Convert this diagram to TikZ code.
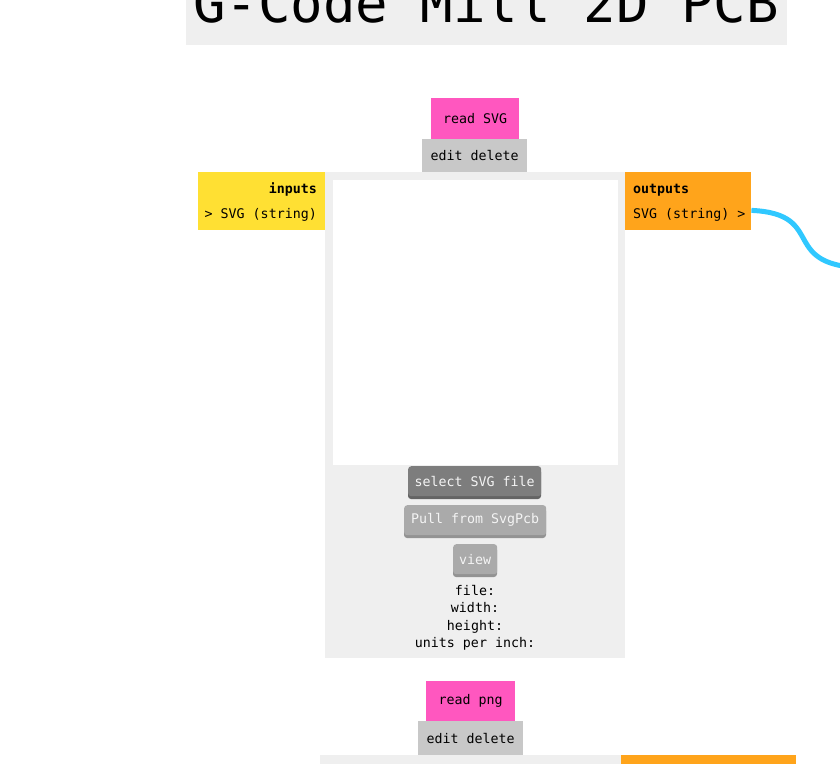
\documentclass[tikz,border=0pt]{standalone}
\usepackage{fontspec}
\setmonofont{DejaVu Sans Mono}
\setmainfont{DejaVu Sans Mono}
\definecolor{pinkc}{HTML}{FF57BF}
\definecolor{editc}{HTML}{C8C8C8}
\definecolor{yelc}{HTML}{FFE033}
\definecolor{orac}{HTML}{FFA41B}
\definecolor{panelc}{HTML}{EFEFEF}
\definecolor{selc}{HTML}{7D7D7D}
\definecolor{selsh}{HTML}{646464}
\definecolor{pullc}{HTML}{AAAAAA}
\definecolor{pullsh}{HTML}{939393}
\definecolor{wirec}{HTML}{30C8FF}
\definecolor{btntext}{HTML}{F4F4F4}
\tikzset{
  small/.style={font=\fontsize{13.3}{25}\selectfont},
  box/.style={small, anchor=north west, inner sep=0pt, text=black},
  pinkbox/.style={box, fill=pinkc},
  editbox/.style={box, fill=editc},
  btn/.style={small, text=btntext, inner sep=0pt},
  wire/.style={draw=wirec, line width=5pt},
}
\begin{document}
\begin{tikzpicture}[x=1pt,y=-1pt]
\useasboundingbox (0,0) rectangle (840,763);
\clip (0,0) rectangle (840,763);
% title
\node[fill=panelc, anchor=north west, minimum width=601, minimum height=80, inner sep=0pt] (titlebox) at (186,-35) {};
\node[anchor=base, font=\fontsize{54}{60}\selectfont, inner sep=0pt] (title) at (486,22) {G-Code Mill 2D PCB};
% panel
\node[fill=panelc, anchor=north west, minimum width=300, minimum height=486, inner sep=0pt] (panel) at (325,172) {};
\node[fill=white, anchor=north west, minimum width=285, minimum height=285, inner sep=0pt] (canvas) at (333,180) {};
% header
\node[pinkbox, minimum width=88, minimum height=41] (readsvg) at (431,98) {read SVG};
\node[editbox, minimum width=105, minimum height=33] (edit1) at (422,139) {edit delete};
% inputs/outputs
\node[box, fill=yelc, minimum width=127, minimum height=58] (inputs) at (198,172) {};
\node[small, anchor=base east, inner sep=0pt] (intitle) at (317,193) {\bfseries inputs};
\node[small, anchor=base east, inner sep=0pt] (inport) at (317,218) {> SVG (string)};
\node[box, fill=orac, minimum width=126, minimum height=58] (outputs) at (625,172) {};
\node[small, anchor=base west, inner sep=0pt] (outtitle) at (633,193) {\bfseries outputs};
\node[small, anchor=base west, inner sep=0pt] (outport) at (633,218) {SVG (string) >};
\coordinate (wireend) at (870,268);
\draw[wire] (outputs.east |- outport.east) ++(0,-4) coordinate (ws) (ws) .. controls (830,214) and (775,268) .. (wireend);
% buttons
\fill[selsh, rounded corners=3pt] (408,469) rectangle (541,499);
\node[fill=selc, rounded corners=3pt, anchor=north west, minimum width=133, minimum height=30, inner sep=0pt] (selbtn) at (408,466) {};
\node[btn] (seltext) at (selbtn.center) {select SVG file};
\fill[pullsh, rounded corners=3pt] (404,508) rectangle (546,538);
\node[fill=pullc, rounded corners=3pt, anchor=north west, minimum width=142, minimum height=30, inner sep=0pt] (pullbtn) at (404,505) {};
\node[btn] (pulltext) at (pullbtn.center) {Pull from SvgPcb};
\fill[pullsh, rounded corners=3pt] (453,547) rectangle (497,577);
\node[fill=pullc, rounded corners=3pt, anchor=north west, minimum width=44, minimum height=30, inner sep=0pt] (viewbtn) at (453,544) {};
\node[btn] (viewtext) at (viewbtn.center) {view};
% info
\node[small, anchor=base, inner sep=0pt] (ifile) at (475,595) {file:};
\node[small, anchor=base, inner sep=0pt] (iwidth) at (475,612) {width:};
\node[small, anchor=base, inner sep=0pt] (iheight) at (475,630) {height:};
\node[small, anchor=base, inner sep=0pt] (iunits) at (475,647) {units per inch:};
% next module
\node[pinkbox, minimum width=89, minimum height=40] (readpng) at (426,681) {read png};
\node[editbox, minimum width=105, minimum height=34] (edit2) at (418,721) {edit delete};
\node[fill=panelc, anchor=north west, minimum width=301, minimum height=20, inner sep=0pt] (panel2) at (320,755) {};
\node[fill=orac, anchor=north west, minimum width=175, minimum height=20, inner sep=0pt] (outputs2) at (621,755) {};
\end{tikzpicture}
\end{document}
